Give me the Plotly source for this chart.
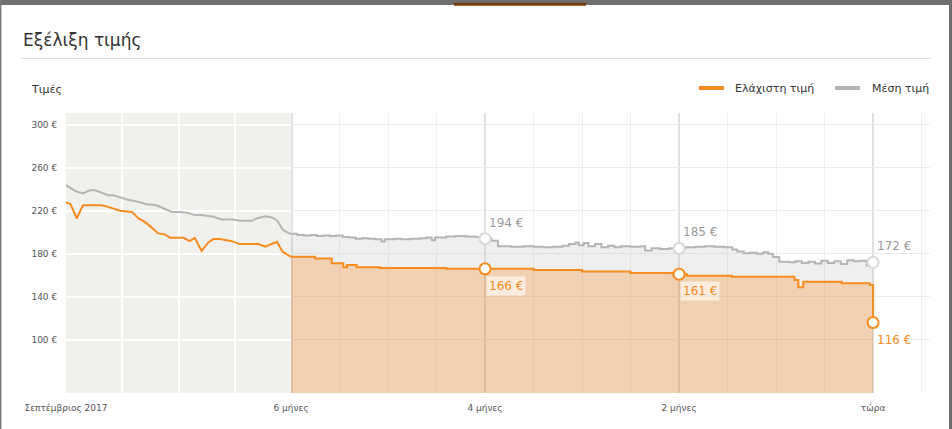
import plotly.graph_objects as go

# ---------------- data ----------------
# historic part (Sept 2017 -> 6 months ago), position in period units 0..4
hist_avg_pos = [0, 0.16, 0.30, 0.43, 0.52, 0.63, 0.75, 0.84, 0.99, 1.08, 1.29, 1.43, 1.61, 1.70,
                1.82, 1.88, 2.03, 2.17, 2.29, 2.41, 2.62, 2.77, 2.97, 3.09, 3.30, 3.39, 3.54,
                3.66, 3.75, 3.86, 4.0]
hist_avg = [243.7, 238.4, 236.0, 239.0, 239.0, 236.9, 234.4, 234.4, 232.3, 230.4, 228.2, 226.1,
            225.1, 223.0, 219.9, 218.9, 218.9, 218.0, 215.9, 215.9, 214.3, 211.9, 211.9, 210.6,
            210.6, 212.8, 214.9, 213.7, 211.2, 201.9, 198.2]
hist_min_pos = [0, 0.08, 0.19, 0.30, 0.63, 0.75, 0.96, 1.17, 1.29, 1.40, 1.49, 1.64, 1.76, 1.85,
                2.09, 2.20, 2.29, 2.41, 2.53, 2.62, 2.74, 2.95, 3.09, 3.42, 3.54, 3.75, 3.85, 4.0]
hist_min = [227.6, 226.1, 212.8, 225.1, 225.1, 223.6, 219.9, 218.9, 212.8, 209.6, 205.9, 198.9,
            198.0, 194.8, 194.8, 191.7, 194.8, 182.7, 190.5, 193.6, 193.6, 191.7, 189.0, 189.0,
            186.5, 191.1, 181.8, 177.2]

# last 6 months, days relative to today (step series)
recent_min_days = [-180, -172.6, -167.4, -163.8, -162.7, -159.7, -152.5, -132, -105, -90, -75,
                   -62, -57.6, -43.7, -24.3, -23.1, -21.6, -9.7, -1.0, 0]
recent_min = [177.2, 175.7, 171.1, 167.5, 169.5, 167.5, 166.8, 166.0, 165.0, 163.5, 162.0,
              161.0, 159.6, 158.6, 155.6, 148.8, 154.0, 152.5, 150.9, 116.0]

recent_avg_days = [-180, -178, -176, -174, -172, -170, -168, -166, -164, -162, -160, -158, -156,
                   -154, -152, -151, -148, -146, -143, -140, -138, -136.5, -135.5, -132, -129,
                   -126, -123, -121, -120, -118, -116, -112, -108, -105, -102, -99, -96, -94,
                   -92, -91, -89.5, -88, -86, -84, -82, -80, -78, -75, -72, -70.5, -68.5, -66,
                   -63, -61, -60, -58, -55, -52, -49, -46, -43.5, -42, -40, -38, -36, -34,
                   -32.5, -31, -29, -26, -24, -22, -20, -18, -16, -14, -12, -10, -8, -6, -4,
                   -2, -1, 0]
recent_avg = [198.5, 197.5, 197.0, 197.5, 196.5, 197.0, 196.5, 197.0, 195.5, 195.0, 194.0, 194.5,
              194.0, 193.5, 191.5, 193.5, 194.0, 193.5, 194.0, 194.5, 195.0, 192.5, 195.0, 196.0,
              196.5, 196.0, 195.5, 194.5, 194.0, 192.0, 187.0, 186.5, 187.0, 186.5, 186.0, 186.5,
              187.5, 189.0, 190.5, 188.0, 190.0, 187.0, 189.0, 186.0, 187.5, 186.0, 187.0, 186.5,
              187.0, 183.0, 185.0, 184.5, 185.0, 184.5, 185.0, 186.0, 186.5, 187.0, 186.5, 186.0,
              184.0, 182.0, 180.5, 181.0, 180.0, 181.5, 180.0, 177.0, 172.5, 172.0, 173.0, 171.5,
              172.5, 171.0, 173.5, 171.5, 173.0, 170.5, 174.0, 173.0, 173.5, 169.0, 172.0, 172.0]

mark_days = [-120, -60, 0]
mark_min = [166, 161, 116]
mark_avg = [194, 185, 172]

y_ticks = [100, 140, 180, 220, 260, 300]
y_tick_text = ["100 €", "140 €", "180 €", "220 €", "260 €", "300 €"]
x2_ticks = [-180, -120, -60, 0]
x2_tick_text = ["6 μήνες", "4 μήνες", "2 μήνες", "τώρα"]
x_tick_text = ["Σεπτέμβριος 2017"]

title_text = "Εξέλιξη τιμής"
y_label = "Τιμές"
name_min = "Ελάχιστη τιμή"
name_avg = "Μέση τιμή"

# ---------------- styling ----------------
W, H = 952, 429
L, R, T, B = 66, 930, 113, 393
SPLIT = 291
ORANGE = "#f68b1f"
GREY_LINE = "#b5b5b5"
FONT = "DejaVu Sans"


def px_x(px):
    return (px - L) / (R - L)


def px_y(py):
    return (B - py) / (B - T)


split_frac = px_x(SPLIT)

fig = go.Figure()

# historic
fig.add_trace(go.Scatter(x=hist_avg_pos, y=hist_avg, mode="lines", name=name_avg,
                         line=dict(color=GREY_LINE, width=2), xaxis="x", yaxis="y",
                         showlegend=False, hoverinfo="skip"))
fig.add_trace(go.Scatter(x=hist_min_pos, y=hist_min, mode="lines", name=name_min,
                         line=dict(color=ORANGE, width=2), xaxis="x", yaxis="y",
                         showlegend=False, hoverinfo="skip"))
# recent
fig.add_trace(go.Scatter(x=recent_min_days, y=recent_min, mode="lines", name=name_min,
                         line=dict(color=ORANGE, width=2, shape="hv"),
                         fill="tozeroy", fillcolor="rgba(222,140,62,0.40)",
                         xaxis="x2", yaxis="y2", showlegend=False, hoverinfo="skip"))
fig.add_trace(go.Scatter(x=recent_avg_days, y=recent_avg, mode="lines", name=name_avg,
                         line=dict(color=GREY_LINE, width=2, shape="hv"),
                         fill="tonexty", fillcolor="rgba(190,190,190,0.25)",
                         xaxis="x2", yaxis="y2", showlegend=False, hoverinfo="skip"))
# markers
fig.add_trace(go.Scatter(x=mark_days, y=mark_avg, mode="markers",
                         marker=dict(symbol="circle", size=11, color="white",
                                     line=dict(color="#d9d9d9", width=2)),
                         xaxis="x2", yaxis="y2", showlegend=False, hoverinfo="skip"))
fig.add_trace(go.Scatter(x=mark_days, y=mark_min, mode="markers",
                         marker=dict(symbol="circle", size=11, color="white",
                                     line=dict(color=ORANGE, width=2)),
                         xaxis="x2", yaxis="y2", showlegend=False, hoverinfo="skip"))

annotations = []
for d, v in zip(mark_days, mark_avg):
    annotations.append(dict(x=d, y=v, xref="x2", yref="y2", text=f"{v} €", showarrow=False,
                            xanchor="left", yanchor="middle", xshift=2, yshift=16,
                            font=dict(family=FONT, size=12, color="#9a9a9a")))
for d, v in zip(mark_days, mark_min):
    annotations.append(dict(x=d, y=v, xref="x2", yref="y2", text=f"{v} €", showarrow=False,
                            xanchor="left", yanchor="middle", xshift=1, yshift=-17,
                            bgcolor="rgba(255,255,255,0.6)", borderpad=2,
                            font=dict(family=FONT, size=12, color=ORANGE)))

# title, axis label, legend
annotations.append(dict(x=px_x(21), y=px_y(40), xref="paper", yref="paper", text=title_text,
                        showarrow=False, xanchor="left", yanchor="middle",
                        font=dict(family=FONT, size=17, color="#333333")))
annotations.append(dict(x=px_x(29), y=px_y(89), xref="paper", yref="paper", text=y_label,
                        showarrow=False, xanchor="left", yanchor="middle",
                        font=dict(family=FONT, size=11, color="#333333")))
annotations.append(dict(x=px_x(733), y=px_y(88), xref="paper", yref="paper", text=name_min,
                        showarrow=False, xanchor="left", yanchor="middle",
                        font=dict(family=FONT, size=11, color="#333333")))
annotations.append(dict(x=px_x(870), y=px_y(88), xref="paper", yref="paper", text=name_avg,
                        showarrow=False, xanchor="left", yanchor="middle",
                        font=dict(family=FONT, size=11, color="#333333")))

shapes = [
    # historic background
    dict(type="rect", xref="x domain", yref="y domain", x0=0, x1=1, y0=0, y1=1,
         fillcolor="#f0f0ec", line=dict(width=0), layer="below"),
    # separator at 6 months
    dict(type="line", xref="x2", yref="y2 domain", x0=-180, x1=-180, y0=0, y1=1,
         line=dict(color="#e2e2e2", width=4), layer="below"),
    # title rule
    dict(type="line", xref="paper", yref="paper", x0=px_x(21), x1=px_x(931),
         y0=px_y(58.5), y1=px_y(58.5), line=dict(color="#dddddd", width=1)),
    # legend keys
    dict(type="line", xref="paper", yref="paper", x0=px_x(699), x1=px_x(724),
         y0=px_y(88), y1=px_y(88), line=dict(color=ORANGE, width=4)),
    dict(type="line", xref="paper", yref="paper", x0=px_x(835), x1=px_x(860),
         y0=px_y(88), y1=px_y(88), line=dict(color="#b3b3b3", width=4)),
    # page frame behind the card (top strip, drawn as horizontal lines)
    dict(type="line", xref="paper", yref="paper", x0=px_x(0), x1=px_x(W),
         y0=px_y(2.5), y1=px_y(2.5), line=dict(color="#707070", width=5)),
    dict(type="line", xref="paper", yref="paper", x0=px_x(454), x1=px_x(586),
         y0=px_y(4.3), y1=px_y(4.3), line=dict(color="#7a3e0b", width=3)),
    dict(type="line", xref="paper", yref="paper", x0=px_x(950.5), x1=px_x(950.5),
         y0=px_y(H), y1=px_y(0), line=dict(color="#6e6e6e", width=3)),
    dict(type="line", xref="paper", yref="paper", x0=px_x(0.7), x1=px_x(0.7),
         y0=px_y(H), y1=px_y(0), line=dict(color="#7a7a7a", width=1.5)),
]

tickfont = dict(family=FONT, size=9, color="#555555")

fig.update_layout(
    width=W, height=H,
    margin=dict(l=L, r=W - R, t=T, b=H - B, pad=0),
    paper_bgcolor="white", plot_bgcolor="white",
    showlegend=False,
    shapes=shapes, annotations=annotations,
    xaxis=dict(domain=[0, split_frac], range=[0, 4], anchor="y",
               tickmode="array", tickvals=[0], ticktext=x_tick_text,
               showgrid=False, zeroline=False, showline=False,
               ticks="outside", ticklen=6, tickcolor="rgba(0,0,0,0)", tickfont=tickfont,
               minor=dict(tickmode="array", tickvals=[1, 2, 3], showgrid=True,
                          gridcolor="white", gridwidth=1.5, ticks="")),
    xaxis2=dict(domain=[split_frac, 1], range=[-180, 17.6], anchor="y2",
                tickmode="array", tickvals=x2_ticks, ticktext=x2_tick_text,
                showgrid=True, gridcolor="#e0e0e0", gridwidth=2,
                zeroline=False, showline=False,
                ticks="outside", ticklen=6, tickcolor="rgba(0,0,0,0)", tickfont=tickfont,
                minor=dict(tickmode="linear", tick0=0, dtick=15, showgrid=True,
                           gridcolor="#efefef", gridwidth=1, ticks="")),
    yaxis=dict(domain=[0, 1], range=[50.6, 310.8], anchor="x",
               tickmode="array", tickvals=y_ticks, ticktext=y_tick_text,
               showgrid=True, gridcolor="white", gridwidth=1.5, zeroline=False,
               showline=False, ticks="outside", ticklen=6, tickcolor="rgba(0,0,0,0)",
               tickfont=tickfont),
    yaxis2=dict(domain=[0, 1], matches="y", anchor="x2",
                tickmode="array", tickvals=y_ticks, showticklabels=False,
                showgrid=True, gridcolor="#ececec", gridwidth=1, zeroline=False,
                showline=False, ticks=""),
)

fig.write_html("out.html", config={"displayModeBar": False},
               post_script="document.body.style.margin='0';document.body.style.overflow='hidden';")
